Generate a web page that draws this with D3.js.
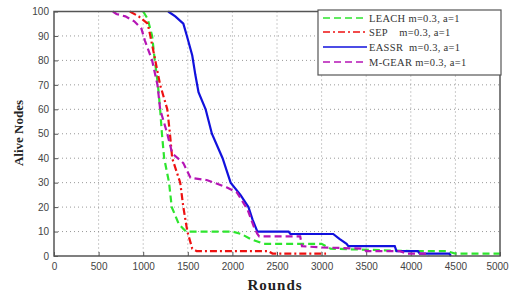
<!DOCTYPE html>
<html><head><meta charset="utf-8">
<script src="https://cdn.jsdelivr.net/npm/d3@7"></script>
<style>body{margin:0;background:#fff}svg{display:block}</style>
</head><body>
<svg id="c" width="509" height="295"></svg>
<script>
const xTicks = [0,500,1000,1500,2000,2500,3000,3500,4000,4500,5000];
const yTicks = [0,10,20,30,40,50,60,70,80,90,100];
const seriesNames = ["LEACH m=0.3, a=1","SEP    m=0.3, a=1","EASSR  m=0.3, a=1","M-GEAR m=0.3, a=1"];
const leach = [[1000,100],[1050,97],[1100,90],[1130,80],[1165,70],[1190,60],[1210,50],[1235,40],[1290,30],[1320,20],[1400,13],[1480,10],[2000,10],[2100,9],[2200,7],[2350,5],[3000,5],[3100,3],[4000,2],[4400,2],[4500,1],[5000,1]];
const sep = [[850,100],[950,98],[1050,95],[1080,90],[1135,80],[1190,70],[1270,60],[1300,50],[1325,40],[1415,30],[1450,20],[1495,10],[1550,3],[1600,2],[2400,2],[2450,1],[3050,1]];
const eassr = [[1280,100],[1360,98],[1450,95],[1490,90],[1550,82],[1585,74],[1620,67],[1700,60],[1770,50],[1890,40],[1980,30],[2090,25],[2180,20],[2225,15],[2280,10],[2630,10],[2650,9],[3130,9],[3200,7],[3280,5],[3300,4],[3820,4],[3840,2],[4080,2],[4100,1],[4430,1],[4450,0]];
const mgear = [[660,100],[700,99],[800,98],[900,96],[980,93],[1020,88],[1100,80],[1160,70],[1190,60],[1270,50],[1325,42],[1450,38],[1530,32],[1720,31],[1940,28],[2050,26],[2170,19],[2240,12],[2280,9],[2300,8],[2760,8],[2780,4],[3000,3.5],[3470,3],[3500,2],[3880,2],[3950,1],[4190,1],[4200,0]];

const colors = ["#2ee52e","#ee1111","#1111dd","#b515b5"];
const dashes = ["7,4","7,3,2,3",null,"7,4"];
const data = [leach, sep, eassr, mgear];

const svg = d3.select("#c");
const L=54, R=500, T=11.5, B=256;
const x = d3.scaleLinear().domain([0,5000]).range([L,R]);
const y = d3.scaleLinear().domain([0,100]).range([B,T]);

// grid
svg.append("g").selectAll("line").data(xTicks.slice(1,-1)).join("line")
  .attr("x1",d=>x(d)).attr("x2",d=>x(d)).attr("y1",T).attr("y2",B)
  .attr("stroke","#999").attr("stroke-width",1).attr("stroke-dasharray","1,3");
svg.append("g").selectAll("line").data(yTicks.slice(1,-1)).join("line")
  .attr("y1",d=>y(d)).attr("y2",d=>y(d)).attr("x1",L).attr("x2",R)
  .attr("stroke","#999").attr("stroke-width",1).attr("stroke-dasharray","1,3");

// axes
const xa = svg.append("g").attr("transform",`translate(0,${B})`)
  .call(d3.axisBottom(x).tickValues(xTicks).tickSize(-4).tickPadding(7).tickFormat(d3.format("d")));
const ya = svg.append("g").attr("transform",`translate(${L},0)`)
  .call(d3.axisLeft(y).tickValues(yTicks).tickSize(-4).tickPadding(5).tickFormat(d3.format("d")));
[xa,ya].forEach(a=>{
  a.select(".domain").remove();
  a.selectAll(".tick line").attr("stroke","#555");
  a.selectAll("text").attr("fill","#444").style("font-family","'Liberation Sans',Arial,sans-serif").style("font-size","10px");
});
xa.selectAll(".tick").filter(d=>d===5000).select("text").attr("dx",-3);

// lines
const line = d3.line().x(d=>x(d[0])).y(d=>y(d[1]));
data.forEach((s,i)=>{
  svg.append("path").datum(s).attr("d",line).attr("fill","none")
    .attr("stroke",colors[i]).attr("stroke-width",2.2)
    .attr("stroke-dasharray",dashes[i]);
});

// frame
svg.append("rect").attr("x",L).attr("y",T).attr("width",R-L).attr("height",B-T)
  .attr("fill","none").attr("stroke","#555").attr("stroke-width",1.5);

// legend
const lg = svg.append("g");
lg.append("rect").attr("x",318).attr("y",10).attr("width",183).attr("height",65)
  .attr("fill","#fff").attr("stroke","#555").attr("stroke-width",1.2);
const ly = [18,32,47,62];
seriesNames.forEach((n,i)=>{
  lg.append("line").attr("x1",323).attr("x2",367).attr("y1",ly[i]).attr("y2",ly[i])
    .attr("stroke",colors[i]).attr("stroke-width",1.5).attr("stroke-dasharray",dashes[i]);
  lg.append("text").attr("x",369).attr("y",ly[i]+3.5).text(n)
    .attr("xml:space","preserve").style("white-space","pre")
    .style("font-family","'Liberation Serif','Times New Roman',serif").style("font-size","10.5px").style("letter-spacing","0.3px").attr("fill","#333");
});

// axis titles
svg.append("text").attr("transform","translate(23,133) rotate(-90)").attr("text-anchor","middle")
  .text("Alive Nodes").style("font-family","'Liberation Serif',serif").style("font-weight","bold").style("font-size","13px").attr("fill","#222");
svg.append("text").attr("x",275).attr("y",290).attr("text-anchor","middle")
  .text("Rounds").style("font-family","'Liberation Serif',serif").style("font-weight","bold").style("font-size","15px").style("letter-spacing","1px").attr("fill","#222");
</script>
</body></html>
